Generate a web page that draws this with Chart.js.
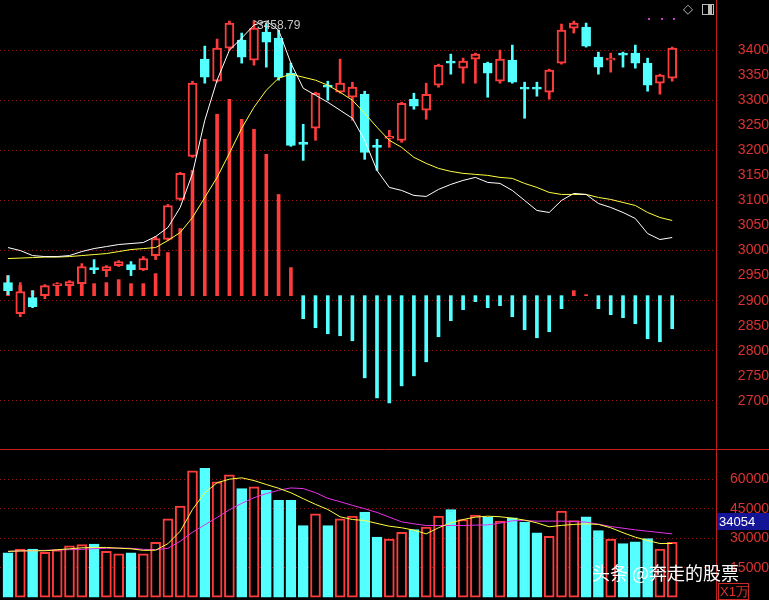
<!DOCTYPE html>
<html>
<head>
<meta charset="utf-8">
<script src="https://cdn.jsdelivr.net/npm/chart.js@4/dist/chart.umd.min.js"></script>
<style>
  body { margin: 0; background: #000; width: 769px; height: 600px; overflow: hidden; position: relative; }
  canvas { position: absolute; left: 0; }
</style>
</head>
<body>
<canvas id="priceChart" width="769" height="449" style="top:0"></canvas>
<canvas id="volChart" width="769" height="151" style="top:449px"></canvas>
<script>
var opens  = [2936,2874,2906,2910,2930,2930,2934,2966,2960,2970,2972,2962,2990,3022,3102,3188,3382,3338,3404,3420,3380,3436,3424,3354,3216,3244,3330,3316,3306,3312,3210,3224,3220,3302,3280,3330,3378,3364,3382,3374,3338,3380,3326,3326,3316,3374,3444,3446,3386,3380,3394,3394,3374,3334,3344];
var closes = [2920,2918,2888,2930,2934,2938,2968,2962,2968,2978,2962,2984,3024,3090,3154,3334,3346,3404,3454,3386,3444,3416,3346,3210,3212,3314,3326,3334,3326,3196,3206,3228,3294,3288,3312,3370,3374,3378,3392,3354,3382,3336,3322,3322,3360,3440,3454,3408,3366,3384,3390,3374,3330,3350,3404];
var highs  = [2950,2936,2920,2932,2936,2940,2974,2982,2970,2980,2978,2988,3028,3092,3156,3338,3408,3422,3458,3434,3459,3454,3440,3374,3252,3316,3338,3382,3336,3318,3222,3240,3296,3314,3334,3372,3392,3384,3394,3376,3400,3410,3336,3336,3362,3452,3458,3454,3396,3394,3396,3410,3384,3352,3406];
var lows   = [2912,2868,2886,2904,2910,2912,2932,2954,2948,2968,2950,2960,2982,3020,3100,3186,3334,3336,3400,3374,3370,3366,3340,3208,3180,3220,3300,3314,3260,3182,3160,3206,3216,3282,3262,3326,3352,3334,3334,3306,3334,3334,3264,3308,3302,3372,3434,3406,3352,3356,3366,3364,3318,3312,3338];
var ma5    = [3006,3000,2990,2988,2988,2990,2998,3004,3008,3012,3014,3016,3028,3046,3086,3154,3260,3340,3400,3424,3450,3458,3440,3374,3324,3310,3296,3280,3264,3220,3160,3126,3120,3110,3108,3122,3132,3140,3146,3136,3134,3120,3100,3080,3076,3100,3114,3112,3094,3086,3076,3064,3034,3022,3026];
var ma10   = [2984,2985,2986,2987,2987,2988,2990,2992,2994,2998,3002,3004,3006,3020,3036,3066,3106,3146,3194,3244,3286,3320,3344,3352,3346,3340,3330,3316,3300,3274,3246,3220,3206,3186,3174,3164,3158,3154,3152,3150,3146,3144,3134,3126,3116,3112,3112,3112,3106,3102,3096,3090,3076,3066,3060];
// MACD histogram (chart units)
var macd   = [20,10,5,8,10,12,12,12,13,16,12,12,22,43,67,125,156,181,196,176,166,141,101,28,-23,-32,-38,-40,-45,-82,-102,-107,-90,-80,-66,-41,-25,-14,-6,-12,-10,-21,-34,-42,-36,-13,5,1,-13,-19,-22,-28,-43,-46,-33];
var volume = [22600,24500,24500,22800,24100,26100,26700,27000,23300,22100,22600,22100,27900,39900,46300,64300,65500,58600,62200,55200,56100,54400,49200,49200,36400,42400,36400,39900,41200,43300,30500,29600,33000,34400,35600,41200,44600,39500,41700,40700,38700,40400,38200,32700,31000,43800,39000,40900,33900,29600,27200,28100,29800,24500,27900];
var volMa5 = [23300,23500,23600,23600,24100,24600,25100,25300,25300,24900,24600,23800,23900,27200,33500,44600,53100,58200,60000,60700,59300,57300,55400,53100,50100,47200,44600,40900,39500,39000,37500,36100,35300,34100,32200,35300,37800,39500,40700,41200,40900,40200,39200,37800,35800,36500,37000,37300,37000,35300,32800,30500,28800,27300,27300];
var volMa10 = [23300,23500,23650,23820,23990,24160,24330,24670,24840,25010,24840,24330,24160,24840,28430,33030,36790,40540,44470,47710,50610,52660,54370,55560,55220,53170,50270,48570,46690,44980,43100,40710,38320,37300,36450,36450,36450,36450,36620,36790,37640,38840,39010,38670,38670,38670,38500,38150,37130,35940,35080,34230,33550,32860,32180];
var priceTicks = [2700,2750,2800,2850,2900,2950,3000,3050,3100,3150,3200,3250,3300,3350,3400];
var volTicks = [15000,30000,45000,60000];
var lastVolLabel = '34054';
var peakLabel = '3458.79';

var RED = 'rgb(255,60,60)';
var CYAN = 'rgb(84,255,255)';
var GRID = 'rgb(150,20,20)';
var AXIS_W = 53;

function up(i) { return closes[i] >= opens[i]; }
var idx = opens.map(function (v, i) { return i; });

var bodies = idx.map(function (i) {
  var a = opens[i], b = closes[i];
  if (Math.abs(a - b) < 3) { var m = (a + b) / 2; a = m - 1.5; b = m + 1.5; }
  return { x: i, y: [a, b] };
});
var wicks = idx.map(function (i) { return { x: i, y: [lows[i], highs[i]] }; });

var frame = {
  id: 'frame',
  beforeDraw: function (c) {
    var ctx = c.ctx;
    ctx.save();
    ctx.fillStyle = '#000';
    ctx.fillRect(0, 0, c.width, c.height);
    ctx.restore();
  },
  afterDraw: function (c) {
    var ctx = c.ctx;
    ctx.save();
    ctx.strokeStyle = 'rgb(190,30,30)';
    ctx.lineWidth = 1;
    ctx.beginPath();
    ctx.moveTo(716.5, 0); ctx.lineTo(716.5, c.height);
    ctx.stroke();
    ctx.restore();
  }
};

function xScale() { return { type: 'linear', min: -0.65, max: 57.56, display: false, offset: false }; }

function rightAxis(min, max, ticks, gridFn) {
  return {
    position: 'right', min: min, max: max,
    afterBuildTicks: function (s) { s.ticks = ticks.map(function (v) { return { value: v }; }); },
    afterFit: function (s) { s.width = AXIS_W; s.paddingTop = 0; s.paddingBottom = 0; },
    border: { display: false, dash: [1, 3] },
    grid: { color: gridFn, drawTicks: false, lineWidth: 1 },
    ticks: { color: 'rgb(220,50,50)', font: { family: 'Liberation Sans', size: 14 }, crossAlign: 'far', padding: 4,
      callback: function (v) { return String(v); } }
  };
}

var priceExtras = {
  id: 'priceExtras',
  afterDraw: function (c) {
    var ctx = c.ctx, x = c.scales.x, y = c.scales.y;
    ctx.save();
    ctx.font = '12px "Liberation Sans"';
    ctx.fillStyle = '#c8c8c8';
    var px = x.getPixelForValue(20), py = y.getPixelForValue(3459);
    ctx.strokeStyle = '#c8c8c8';
    ctx.beginPath();
    ctx.moveTo(px, py); ctx.lineTo(px + 7, py + 4);
    ctx.stroke();
    ctx.textBaseline = 'middle';
    ctx.fillText(peakLabel, px + 3, py + 5);
    ctx.fillStyle = 'rgb(200,60,200)';
    [648, 661, 673].forEach(function (dx) { ctx.fillRect(dx, 18, 2, 2); });
    ctx.fillStyle = '#bbb';
    ctx.font = '13px "DejaVu Sans"';
    ctx.fillText('◇', 683, 10);
    ctx.strokeStyle = '#bbb';
    ctx.strokeRect(702.5, 4.5, 11, 10);
    ctx.fillRect(708, 5, 4, 9);
    ctx.restore();
  }
};

new Chart(document.getElementById('priceChart'), {
  data: {
    datasets: [
      { type: 'line', data: idx.map(function (i) { return { x: i, y: ma5[i] }; }), borderColor: '#ffffff', borderWidth: 1, pointRadius: 0, order: 0 },
      { type: 'line', data: idx.map(function (i) { return { x: i, y: ma10[i] }; }), borderColor: '#ffff40', borderWidth: 1, pointRadius: 0, order: 0 },
      { type: 'bar', data: bodies, grouped: false, barThickness: 9, borderSkipped: false, borderWidth: 2,
        backgroundColor: idx.map(function (i) { return up(i) ? '#000' : CYAN; }),
        borderColor: idx.map(function (i) { return up(i) ? RED : CYAN; }), order: 1 },
      { type: 'bar', data: wicks, grouped: false, barThickness: 2,
        backgroundColor: idx.map(function (i) { return up(i) ? RED : CYAN; }), order: 2 },
      { type: 'bar', yAxisID: 'm', data: idx.map(function (i) { return { x: i, y: macd[i] }; }), grouped: false, barThickness: 3,
        backgroundColor: macd.map(function (v) { return v >= 0 ? RED : CYAN; }), order: 3 }
    ]
  },
  options: {
    responsive: false, devicePixelRatio: 1, animation: false,
    layout: { padding: 0 },
    plugins: { legend: { display: false }, tooltip: { enabled: false } },
    scales: {
      x: xScale(),
      y: rightAxis(2604, 3500, priceTicks, function (ctx) {
        return ctx.tick && ctx.tick.value % 100 === 0 ? GRID : 'rgba(0,0,0,0)';
      }),
      m: { display: false, min: -153, max: 295 }
    }
  },
  plugins: [frame, priceExtras]
});

var volExtras = {
  id: 'volExtras',
  afterDraw: function (c) {
    var ctx = c.ctx;
    ctx.save();
    ctx.strokeStyle = 'rgb(190,30,30)';
    ctx.beginPath(); ctx.moveTo(0, 0.5); ctx.lineTo(769, 0.5); ctx.stroke();
    ctx.fillStyle = 'rgb(20,20,150)';
    ctx.fillRect(717, 64, 52, 17);
    ctx.fillStyle = '#fff';
    ctx.font = '13px "Liberation Sans"';
    ctx.textBaseline = 'middle';
    ctx.fillText(lastVolLabel, 719, 73);
    ctx.fillStyle = '#000';
    ctx.fillRect(718, 134, 51, 17);
    ctx.strokeStyle = 'rgb(200,40,40)';
    ctx.strokeRect(718.5, 134.5, 30, 16);
    ctx.fillStyle = 'rgb(220,50,50)';
    ctx.fillText('X1万', 720, 143);
    ctx.font = '18px "Noto Sans CJK SC"';
    ctx.fillStyle = '#fff';
    ctx.fillText('头条 @奔走的股票', 592, 124);
    ctx.restore();
  }
};

new Chart(document.getElementById('volChart'), {
  data: {
    datasets: [
      { type: 'line', data: idx.map(function (i) { return { x: i, y: volMa5[i] }; }), borderColor: '#ffff40', borderWidth: 1, pointRadius: 0, order: 0 },
      { type: 'line', data: idx.map(function (i) { return { x: i, y: volMa10[i] }; }), borderColor: 'rgb(230,50,230)', borderWidth: 1, pointRadius: 0, order: 0 },
      { type: 'bar', data: idx.map(function (i) { return { x: i, y: volume[i] }; }), grouped: false, barThickness: 10, borderSkipped: false, borderWidth: 2,
        backgroundColor: idx.map(function (i) { return up(i) ? '#000' : CYAN; }),
        borderColor: idx.map(function (i) { return up(i) ? RED : CYAN; }), order: 1 }
    ]
  },
  options: {
    responsive: false, devicePixelRatio: 1, animation: false,
    layout: { padding: 0 },
    plugins: { legend: { display: false }, tooltip: { enabled: false } },
    scales: {
      x: xScale(),
      y: rightAxis(-1440, 75360, volTicks, function () { return GRID; })
    }
  },
  plugins: [frame, volExtras]
});
</script>
</body>
</html>
